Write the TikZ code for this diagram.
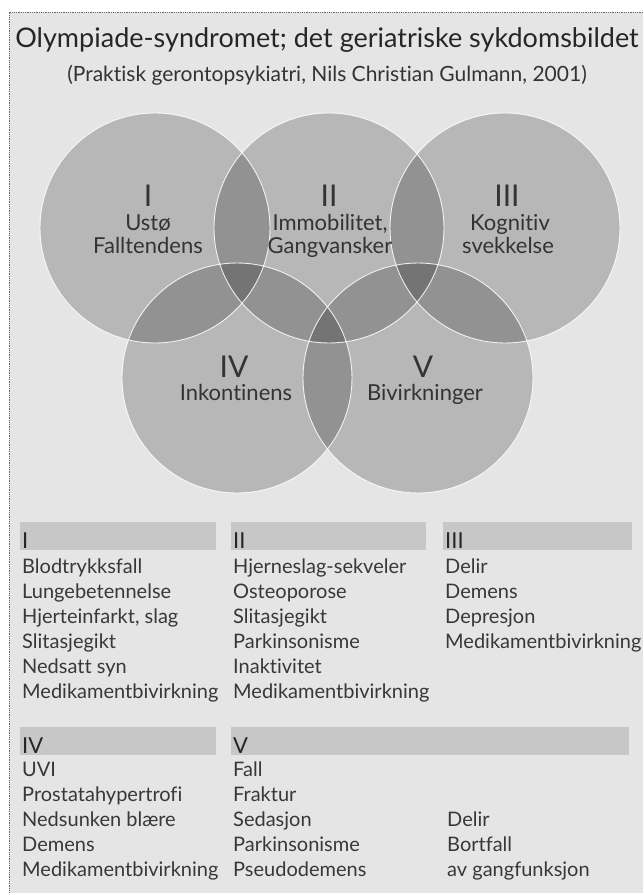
\documentclass[tikz,border=0pt]{standalone}
\usepackage{fontspec}
\setmainfont[Ligatures=NoCommon]{Lato}
\begin{document}
\begin{tikzpicture}[x=1pt,y=-1pt,
  disc/.style={circle,minimum size=230pt,inner sep=0pt,fill=black,fill opacity=0.2},
  ring/.style={draw=white,line width=0.9pt,opacity=0.85},
  roman/.style={font=\fontsize{30}{30}\selectfont,text=black!80,anchor=base,inner sep=0pt},
  lbl/.style={font=\fontsize{22}{22}\selectfont,text=black!80,anchor=base,inner sep=0pt},
  bar/.style={fill=black!22},
  head/.style={font=\fontsize{22}{22}\selectfont,text=black!85,anchor=base west,inner sep=0pt},
  item/.style={font=\fontsize{20}{20}\selectfont,text=black!78,anchor=base west,inner sep=0pt}]
\def\r{115}
\useasboundingbox (0,0) rectangle (643,893);
\fill[white] (0,0) rectangle (643,893);
\fill[black!10] (9,12) rectangle (643,893);
\draw[black!60,line width=0.8pt,densely dotted] (643,12) -- (9,12) -- (9,893);

% title
\node[anchor=base,inner sep=0pt,font=\fontsize{27}{27}\selectfont,text=black!85] (title) at (327,48) {Olympiade-syndromet; det geriatriske sykdomsbildet};
\node[anchor=base,inner sep=0pt,font=\fontsize{21}{21}\selectfont,text=black!80] (source) at (327,82) {(Praktisk gerontopsykiatri, Nils Christian Gulmann, 2001)};

% the five circles
\node[disc] (c1) at (155,228) {};
\node[disc] (c2) at (329,228) {};
\node[disc] (c3) at (505,228) {};
\node[disc] (c4) at (237,378) {};
\node[disc] (c5) at (418,378) {};
\draw[ring] (c1) circle (\r pt);
\draw[ring] (c2) circle (\r pt);
\draw[ring] (c3) circle (\r pt);
\draw[ring] (c4) circle (\r pt);
\draw[ring] (c5) circle (\r pt);

\node[roman] (n1) at (148,207) {I};
\node[lbl] (a1) at (148,231) {Ustø};
\node[lbl] (b1) at (148,253) {Falltendens};
\node[roman] (n2) at (329,207) {II};
\node[lbl] (a2) at (330,231) {Immobilitet,};
\node[lbl] (b2) at (330,253) {Gangvansker};
\node[roman] (n3) at (507,207) {III};
\node[lbl] (a3) at (510,231) {Kognitiv};
\node[lbl] (b3) at (508,253) {svekkelse};
\node[roman] (n4) at (234,377) {IV};
\node[lbl] (a4) at (236,400) {Inkontinens};
\node[roman] (n5) at (423,377) {V};
\node[lbl] (a5) at (425,400) {Bivirkninger};

% table, upper part
\fill[bar] (20,522) rectangle (216,550);
\fill[bar] (231,522) rectangle (426,550);
\fill[bar] (443,522) rectangle (632,550);
\node[head] (h1) at (22,548) {I};
\node[head] (h2) at (233,548) {II};
\node[head] (h3) at (445,548) {III};

\node[item] (i1) at (22,573) {Blodtrykksfall};
\node[item] (i2) at (22,598) {Lungebetennelse};
\node[item] (i3) at (22,623) {Hjerteinfarkt, slag};
\node[item] (i4) at (22,648) {Slitasjegikt};
\node[item] (i5) at (22,673) {Nedsatt syn};
\node[item] (i6) at (22,698) {Medikamentbivirkning};

\node[item] (ii1) at (233,573) {Hjerneslag-sekveler};
\node[item] (ii2) at (233,598) {Osteoporose};
\node[item] (ii3) at (233,623) {Slitasjegikt};
\node[item] (ii4) at (233,648) {Parkinsonisme};
\node[item] (ii5) at (233,673) {Inaktivitet};
\node[item] (ii6) at (233,698) {Medikamentbivirkning};

\node[item] (iii1) at (445,573) {Delir};
\node[item] (iii2) at (445,598) {Demens};
\node[item] (iii3) at (445,623) {Depresjon};
\node[item] (iii4) at (445,648) {Medikamentbivirkning};

% table, lower part
\fill[bar] (20,727) rectangle (216,755);
\fill[bar] (231,727) rectangle (629,755);
\node[head] (h4) at (22,753) {IV};
\node[head] (h5) at (233,753) {V};

\node[item] (iv1) at (22,776) {UVI};
\node[item] (iv2) at (22,801) {Prostatahypertrofi};
\node[item] (iv3) at (22,826) {Nedsunken blære};
\node[item] (iv4) at (22,851) {Demens};
\node[item] (iv5) at (22,876) {Medikamentbivirkning};

\node[item] (v1) at (233,776) {Fall};
\node[item] (v2) at (233,801) {Fraktur};
\node[item] (v3) at (233,826) {Sedasjon};
\node[item] (v4) at (233,851) {Parkinsonisme};
\node[item] (v5) at (233,876) {Pseudodemens};
\node[item] (v6) at (447,826) {Delir};
\node[item] (v7) at (447,851) {Bortfall};
\node[item] (v8) at (447,876) {av gangfunksjon};
\end{tikzpicture}
\end{document}
